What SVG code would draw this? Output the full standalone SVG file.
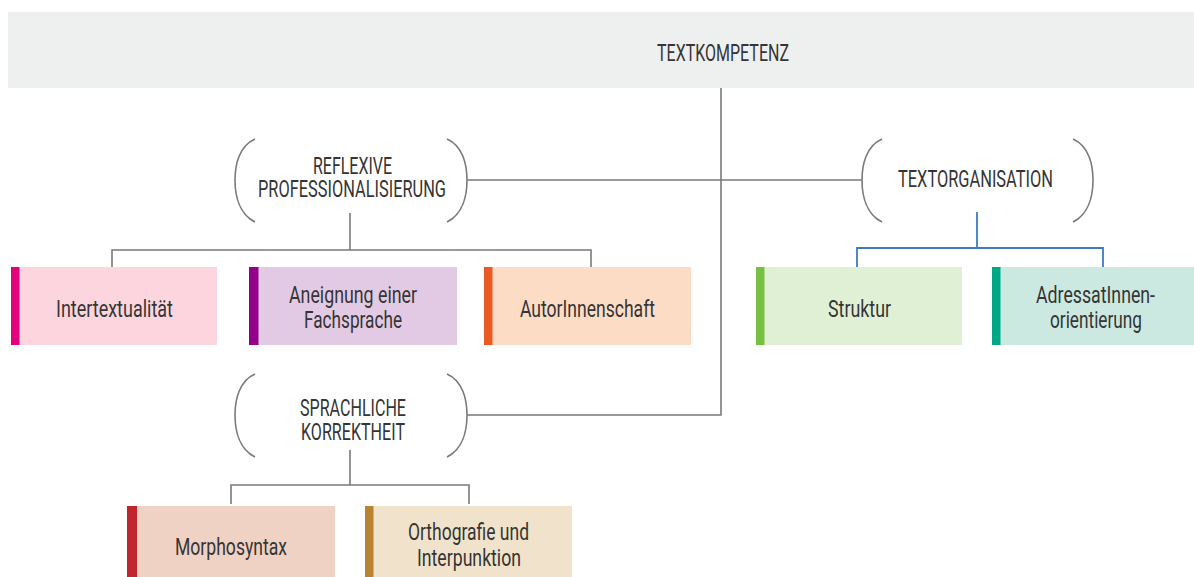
<svg xmlns="http://www.w3.org/2000/svg" width="1194" height="577" viewBox="0 0 1194 577">
<style>
text{font-family:"Liberation Sans Narrow","Roboto","Liberation Sans",sans-serif;font-size:24px;fill:#353535}
.cap{font-size:23.5px}
.br{fill:none;stroke:#7a7a7a;stroke-width:1.6}
.con{fill:none;stroke:#7a7a7a;stroke-width:1.6}
.blue{fill:none;stroke:#3d7cc4;stroke-width:1.8}
</style>
<rect width="1194" height="577" fill="#ffffff"/>
<g id="connectors">
<path class="con" d="M721 88 V415 H467"/>
<path class="con" d="M467 180 H862"/>
<path class="con" d="M350 213 V250 M112 267 V250 H591 V267"/>
<path class="con" d="M350 450 V485 M231 504 V485 H469 V504"/>
<path class="blue" d="M977 212 V248 M857 267 V248 H1103 V267"/>
</g>
<g id="textkompetenz">
<rect x="8" y="12" width="1186" height="76" fill="#eeefef"/>
<text x="657" y="61" class="cap" textLength="132" lengthAdjust="spacingAndGlyphs">TEXTKOMPETENZ</text>
</g>
<g id="reflexive">
<path class="br" d="M255 139 C239 146 235 165 235 180 C235 195 239 214 255 222 M447 139 C463 146 467 165 467 180 C467 195 463 214 447 222"/>
<text x="313" y="174" class="cap" textLength="79" lengthAdjust="spacingAndGlyphs">REFLEXIVE</text>
<text x="258" y="197" class="cap" textLength="188" lengthAdjust="spacingAndGlyphs">PROFESSIONALISIERUNG</text>
</g>
<g id="textorganisation">
<path class="br" d="M882 139 C866 146 862 165 862 180 C862 195 866 214 882 222 M1073 139 C1089 146 1093 165 1093 180 C1093 195 1089 214 1073 222"/>
<text x="898" y="187" class="cap" textLength="155" lengthAdjust="spacingAndGlyphs">TEXTORGANISATION</text>
</g>
<g id="sprachliche">
<path class="br" d="M255 374 C239 381 235 400 235 415 C235 430 239 449 255 457 M447 374 C463 381 467 400 467 415 C467 430 463 449 447 457"/>
<text x="300" y="416" class="cap" textLength="106" lengthAdjust="spacingAndGlyphs">SPRACHLICHE</text>
<text x="301" y="440" class="cap" textLength="104" lengthAdjust="spacingAndGlyphs">KORREKTHEIT</text>
</g>
<g id="intertextualitaet">
<rect x="11" y="267" width="206" height="78" fill="#fcd5de"/>
<rect x="11" y="267" width="8.5" height="78" fill="#e5007d"/>
<text x="56" y="317" textLength="117" lengthAdjust="spacingAndGlyphs">Intertextualität</text>
</g>
<g id="aneignung">
<rect x="249" y="267" width="208" height="78" fill="#e3cae4"/>
<rect x="249" y="267" width="9.5" height="78" fill="#95008a"/>
<text x="289" y="303" textLength="128" lengthAdjust="spacingAndGlyphs">Aneignung einer</text>
<text x="304" y="328" textLength="98" lengthAdjust="spacingAndGlyphs">Fachsprache</text>
</g>
<g id="autorinnenschaft">
<rect x="484" y="267" width="207" height="78" fill="#fddcc5"/>
<rect x="484" y="267" width="8.5" height="78" fill="#ec5a24"/>
<text x="520" y="317" textLength="135" lengthAdjust="spacingAndGlyphs">AutorInnenschaft</text>
</g>
<g id="struktur">
<rect x="756" y="267" width="206" height="78" fill="#e0f0d5"/>
<rect x="756" y="267" width="8.5" height="78" fill="#77c043"/>
<text x="828" y="317" textLength="63" lengthAdjust="spacingAndGlyphs">Struktur</text>
</g>
<g id="adressatinnen">
<rect x="992" y="267" width="202" height="78" fill="#cbe9e1"/>
<rect x="992" y="267" width="8.5" height="78" fill="#00a786"/>
<text x="1036" y="303" textLength="119" lengthAdjust="spacingAndGlyphs">AdressatInnen-</text>
<text x="1050" y="328" textLength="92" lengthAdjust="spacingAndGlyphs">orientierung</text>
</g>
<g id="morphosyntax">
<rect x="127" y="506" width="208" height="71" fill="#efd2c3"/>
<rect x="127" y="506" width="10" height="71" fill="#c1262e"/>
<text x="175" y="555" textLength="112" lengthAdjust="spacingAndGlyphs">Morphosyntax</text>
</g>
<g id="orthografie">
<rect x="365" y="506" width="207" height="71" fill="#f1e3cb"/>
<rect x="365" y="506" width="8.5" height="71" fill="#b78532"/>
<text x="408" y="540" textLength="121" lengthAdjust="spacingAndGlyphs">Orthografie und</text>
<text x="417" y="566" textLength="104" lengthAdjust="spacingAndGlyphs">Interpunktion</text>
</g>
</svg>
